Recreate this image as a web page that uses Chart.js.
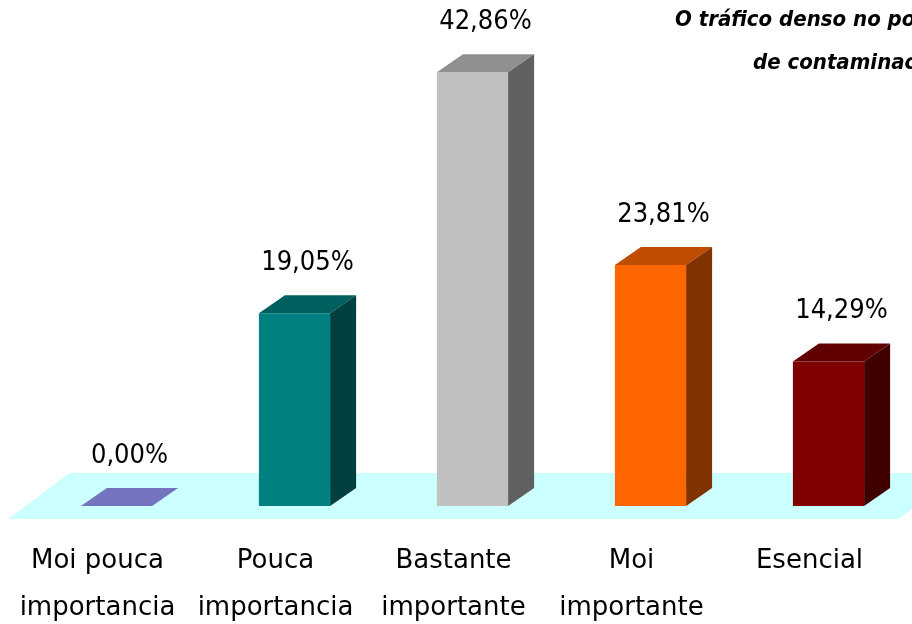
<!DOCTYPE html>
<html>
<head>
<meta charset="utf-8">
<script src="https://cdn.jsdelivr.net/npm/chart.js@4/dist/chart.umd.min.js"></script>
<style>
  html, body { margin: 0; padding: 0; background: #ffffff; overflow: hidden; width: 912px; height: 624px; }
  #wrap { position: absolute; left: 0; top: 0; width: 1000px; height: 624px; }
</style>
</head>
<body>
<div id="wrap"><canvas id="c"></canvas></div>
<script>
// ---- data ----
const categories = [["Moi pouca", "importancia"], ["Pouca", "importancia"], ["Bastante", "importante"], ["Moi", "importante"], ["Esencial"]];
const values = [0.00, 19.05, 42.86, 23.81, 14.29];
const barColors = ["#9999FF", "#008080", "#C0C0C0", "#FF6600", "#800000"];
const titleLines = ["O tráfico denso no porto é unha fonte", "de contaminación"];
const yMin = 0;
const yMax = 50;

// ---- styling constants ----
const DEPTH_X = 26, DEPTH_Y = 18;
const FLOOR_COLOR = "#CCFFFF";

function shade(hex, f) {
  const n = parseInt(hex.slice(1), 16);
  const r = Math.round(((n >> 16) & 255) * f);
  const g = Math.round(((n >> 8) & 255) * f);
  const b = Math.round((n & 255) * f);
  return `rgb(${r},${g},${b})`;
}
function fmt(v) { return v.toFixed(2).replace('.', ',') + '%'; }

const floorPlugin = {
  id: 'floor',
  beforeDatasetsDraw(chart) {
    const { ctx, scales: { x, y } } = chart;
    const base = y.getPixelForValue(0);
    ctx.save();
    ctx.fillStyle = FLOOR_COLOR;
    ctx.beginPath();
    ctx.moveTo(x.left - 19, base + 13);
    ctx.lineTo(x.left + 42, base - 33);
    ctx.lineTo(x.right + 42, base - 33);
    ctx.lineTo(x.right - 19, base + 13);
    ctx.closePath();
    ctx.fill();
    ctx.restore();
  }
};

const box3dPlugin = {
  id: 'box3d',
  afterDatasetsDraw(chart) {
    const { ctx } = chart;
    const meta = chart.getDatasetMeta(0);
    meta.data.forEach((bar, i) => {
      const p = bar.getProps(['x', 'y', 'base', 'width'], true);
      const l = p.x - p.width / 2, r = p.x + p.width / 2;
      const top = p.y, base = p.base;
      const col = barColors[i];
      ctx.save();
      // top face
      ctx.fillStyle = shade(col, 0.75);
      ctx.beginPath();
      ctx.moveTo(l, top);
      ctx.lineTo(l + DEPTH_X, top - DEPTH_Y);
      ctx.lineTo(r + DEPTH_X, top - DEPTH_Y);
      ctx.lineTo(r, top);
      ctx.closePath();
      ctx.fill();
      // side face
      if (base - top > 0.5) {
        ctx.fillStyle = shade(col, 0.5);
        ctx.beginPath();
        ctx.moveTo(r, top);
        ctx.lineTo(r + DEPTH_X, top - DEPTH_Y);
        ctx.lineTo(r + DEPTH_X, base - DEPTH_Y);
        ctx.lineTo(r, base);
        ctx.closePath();
        ctx.fill();
      }
      // value label
      ctx.fillStyle = "#000000";
      ctx.font = "27px 'DejaVu Sans Condensed', 'DejaVu Sans', sans-serif";
      ctx.textAlign = "center";
      ctx.textBaseline = "middle";
      ctx.fillText(fmt(values[i]), p.x + 13, top - 50);
      ctx.restore();
    });
  }
};

const titlePlugin = {
  id: 'sideTitle',
  afterDraw(chart) {
    const { ctx } = chart;
    ctx.save();
    ctx.fillStyle = "#000000";
    ctx.font = "italic bold 22px 'DejaVu Sans Condensed', 'DejaVu Sans', sans-serif";
    ctx.textAlign = "left";
    ctx.textBaseline = "middle";
    ctx.fillText(titleLines[0], 675, 20);
    ctx.fillText(titleLines[1], 753, 63);
    ctx.restore();
  }
};

new Chart(document.getElementById('c'), {
  type: 'bar',
  data: {
    labels: categories,
    datasets: [{
      data: values,
      backgroundColor: barColors,
      borderWidth: 0,
      categoryPercentage: 1.0,
      barPercentage: 0.4
    }]
  },
  options: {
    responsive: true,
    maintainAspectRatio: false,
    animation: false,
    layout: { padding: { left: 27.5, right: 82.5, top: 0, bottom: 0 } },
    plugins: {
      legend: { display: false },
      tooltip: { enabled: false },
      title: { display: false }
    },
    scales: {
      x: {
        offset: true,
        grid: { display: false, drawTicks: false },
        border: { display: false },
        ticks: {
          color: "#000000",
          font: { family: "'DejaVu Sans', sans-serif", size: 26, lineHeight: 47 / 26 },
          padding: 32,
          labelOffset: -19,
          maxRotation: 0,
          autoSkip: false
        },
        afterFit(scale) { scale.height = 118; }
      },
      y: {
        display: false,
        min: yMin,
        max: yMax
      }
    }
  },
  plugins: [floorPlugin, box3dPlugin, titlePlugin]
});
</script>
</body>
</html>
